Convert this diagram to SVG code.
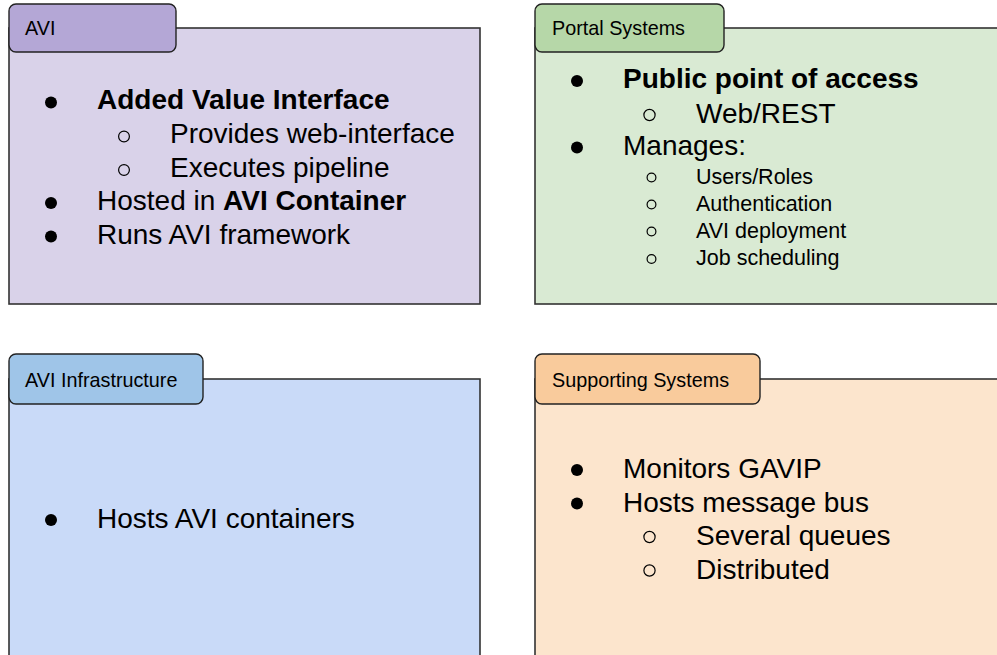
<svg xmlns="http://www.w3.org/2000/svg" width="997" height="655" viewBox="0 0 997 655">
<style>
  text { font-family: "Liberation Sans", Arial, sans-serif; fill: #000; }
  .tab { font-size: 19.8px; }
  .big { font-size: 28px; }
  .small { font-size: 21.5px; }
  .b { font-weight: bold; }
  .body { stroke: #333; stroke-width: 1.6; }
  .tabr { stroke: #222; stroke-width: 1.4; }
  .dot { fill: #000; }
  .ring { fill: none; stroke: #000; stroke-width: 1.2; }
</style>
<rect width="997" height="655" fill="#fff"/>

<g id="avi">
  <rect class="body" x="9" y="28" width="471" height="276" fill="#d9d2e9"/>
  <rect class="tabr" x="9" y="4" width="167" height="48" rx="7" fill="#b4a7d6"/>
  <text class="tab" x="25" y="35">AVI</text>
  <circle class="dot" cx="51" cy="102.5" r="6"/>
  <text class="big b" x="97" y="109">Added Value Interface</text>
  <circle class="ring" cx="124" cy="136.5" r="5.4"/>
  <text class="big" x="170" y="143">Provides web-interface</text>
  <circle class="ring" cx="124" cy="170" r="5.4"/>
  <text class="big" x="170" y="176.5">Executes pipeline</text>
  <circle class="dot" cx="51" cy="203" r="6"/>
  <text class="big" x="97" y="210">Hosted in <tspan class="b">AVI Container</tspan></text>
  <circle class="dot" cx="51" cy="236.5" r="6"/>
  <text class="big" x="97" y="243.5">Runs AVI framework</text>
</g>

<g id="portal">
  <rect class="body" x="535" y="28" width="470" height="276" fill="#d9ead3"/>
  <rect class="tabr" x="535" y="4" width="189" height="48" rx="7" fill="#b6d7a8"/>
  <text class="tab" x="552" y="34.5">Portal Systems</text>
  <circle class="dot" cx="577" cy="81" r="6"/>
  <text class="big b" x="623" y="88">Public point of access</text>
  <circle class="ring" cx="649.5" cy="115" r="5.6"/>
  <text class="big" x="696" y="122.5">Web/REST</text>
  <circle class="dot" cx="577" cy="147.5" r="6"/>
  <text class="big" x="623" y="155">Manages:</text>
  <circle class="ring" cx="651.5" cy="177.5" r="4.4"/>
  <text class="small" x="696" y="183.5">Users/Roles</text>
  <circle class="ring" cx="651.5" cy="204.5" r="4.4"/>
  <text class="small" x="696" y="210.5">Authentication</text>
  <circle class="ring" cx="651.5" cy="231.5" r="4.4"/>
  <text class="small" x="696" y="237.5">AVI deployment</text>
  <circle class="ring" cx="651.5" cy="259" r="4.4"/>
  <text class="small" x="696" y="265">Job scheduling</text>
</g>

<g id="infra">
  <rect class="body" x="9" y="379" width="471" height="290" fill="#c9daf8"/>
  <rect class="tabr" x="9" y="354" width="194" height="50" rx="7" fill="#9fc5e8"/>
  <text class="tab" x="25" y="386.5">AVI Infrastructure</text>
  <circle class="dot" cx="51" cy="520" r="6"/>
  <text class="big" x="97" y="527.5">Hosts AVI containers</text>
</g>

<g id="supporting">
  <rect class="body" x="535" y="379" width="470" height="290" fill="#fce5cd"/>
  <rect class="tabr" x="535" y="354" width="225" height="50" rx="7" fill="#f9cb9c"/>
  <text class="tab" x="552" y="386.5">Supporting Systems</text>
  <circle class="dot" cx="577" cy="470" r="6"/>
  <text class="big" x="623" y="477.5">Monitors GAVIP</text>
  <circle class="dot" cx="577" cy="503.5" r="6"/>
  <text class="big" x="623" y="511.5">Hosts message bus</text>
  <circle class="ring" cx="649.5" cy="537" r="5.6"/>
  <text class="big" x="696" y="544.5">Several queues</text>
  <circle class="ring" cx="649.5" cy="570.5" r="5.6"/>
  <text class="big" x="696" y="578.5">Distributed</text>
</g>

<g id="connectors"></g>
</svg>
